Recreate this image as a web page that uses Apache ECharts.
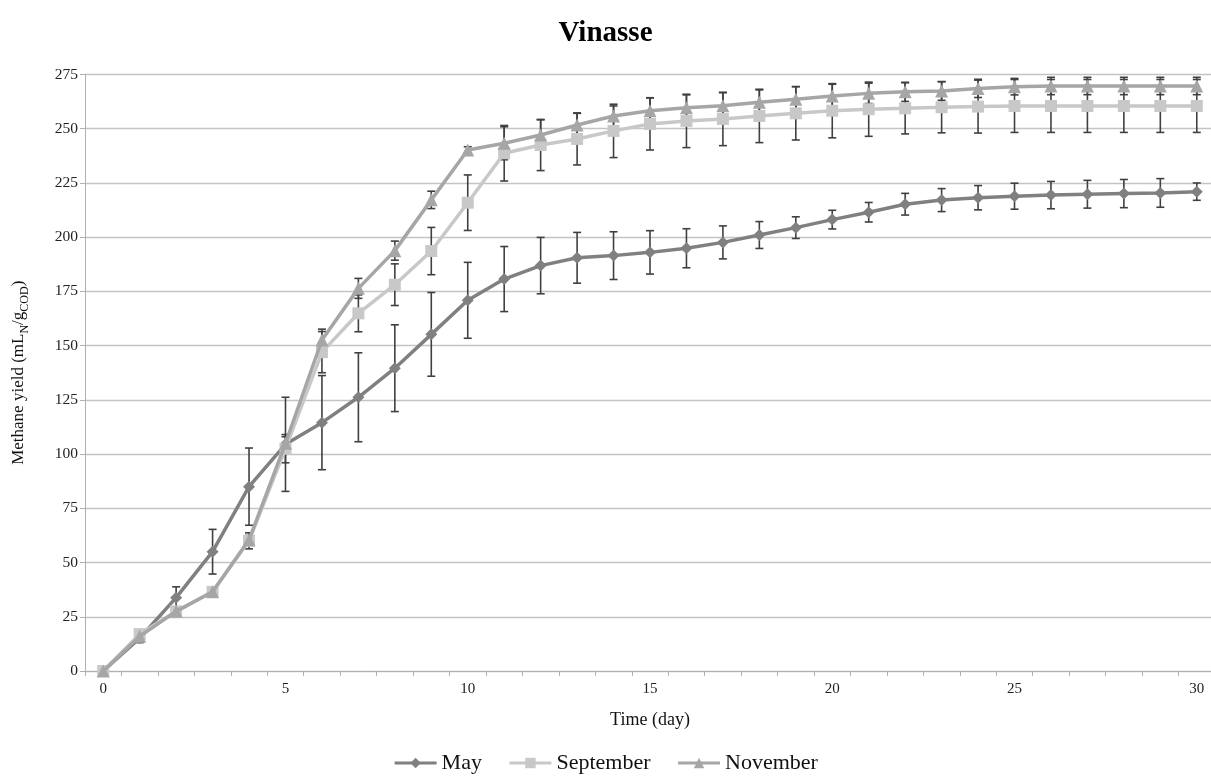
<!DOCTYPE html>
<html>
<head>
<meta charset="utf-8">
<script src="https://cdn.jsdelivr.net/npm/echarts@6/dist/echarts.min.js"></script>
<style>
html,body{margin:0;padding:0;background:#fff;}
#c{width:1211px;height:776px;}
</style>
</head>
<body>
<div id="c"></div>
<script>
var days = ['0','1','2','3','4','5','6','7','8','9','10','11','12','13','14','15','16','17','18','19','20','21','22','23','24','25','26','27','28','29','30'];
var may = [0,15.1,33.8,55,85,104.5,114.5,126.2,139.6,155.2,170.9,180.7,186.9,190.5,191.5,193,194.9,197.6,201,204.4,208.1,211.5,215.2,217.1,218.2,218.9,219.4,219.8,220.1,220.4,221];
var mayErr = [0,2,5,10.3,17.8,21.7,21.7,20.5,20,19.3,17.5,15,13,11.7,11,10,9,7.6,6.2,5,4.3,4.5,5,5.3,5.6,6,6.3,6.4,6.5,6.6,4];
var september = [0,17,27.5,36.5,60,102.5,147,164.9,178.1,193.6,215.9,238.7,242.5,245.3,249,252.2,253.6,254.5,255.9,257.1,258.3,259,259.4,259.9,260.2,260.5,260.5,260.5,260.5,260.5,260.5];
var septemberErr = [0,1,1.5,2,3.7,6.5,9.5,8.5,9.6,10.9,12.8,12.8,11.8,12,12.3,12,12.3,12.3,12.3,12.3,12.5,12.5,11.8,11.8,12.2,12.2,12.2,12.2,12.2,12.2,12.2];
var november = [0,16,27.5,36.5,60.5,105,152.6,176.4,193.8,217.2,240.2,243.3,247.1,251.7,255.9,258.3,259.7,260.6,262.2,263.6,265.1,266.3,267,267.4,268.6,269.4,269.7,269.7,269.7,269.7,269.7];
var novemberErr = [0,1,1,1.5,2,3,5,4.6,4.4,4,1.5,7.6,7,5.4,4.6,6,5.9,6,5.7,5.8,5.4,4.7,4.4,4.3,4.2,3.8,4,4,4,4,4];
var yTicks = {min: 0, max: 275, interval: 25};

var FONT = '"Liberation Serif", "Times New Roman", serif';

function errData(vals, errs) {
  return vals.map(function (v, i) { return [i, v - errs[i], v + errs[i]]; });
}
function errSeries(name, vals, errs) {
  return {
    type: 'custom',
    name: name + ' err',
    z: 1,
    silent: true,
    data: errData(vals, errs),
    encode: {x: 0, y: [1, 2]},
    renderItem: function (params, api) {
      var i = api.value(0);
      var lo = api.coord([i, api.value(1)]);
      var hi = api.coord([i, api.value(2)]);
      if (Math.abs(hi[1] - lo[1]) < 0.5) return null;
      var w = 4;
      var st = {stroke: '#404040', lineWidth: 1.6};
      return {
        type: 'group',
        children: [
          {type: 'line', shape: {x1: lo[0], y1: lo[1], x2: hi[0], y2: hi[1]}, style: st},
          {type: 'line', shape: {x1: lo[0] - w, y1: lo[1], x2: lo[0] + w, y2: lo[1]}, style: st},
          {type: 'line', shape: {x1: hi[0] - w, y1: hi[1], x2: hi[0] + w, y2: hi[1]}, style: st}
        ]
      };
    }
  };
}

var chart = echarts.init(document.getElementById('c'), null, {renderer: 'canvas'});
chart.setOption({
  animation: false,
  backgroundColor: '#fff',
  textStyle: {fontFamily: FONT},
  title: {
    text: 'Vinasse',
    left: 'center',
    top: 14,
    textStyle: {fontFamily: FONT, fontSize: 29, fontWeight: 'bold', color: '#000'}
  },
  legend: {
    bottom: -3,
    left: 'center',
    itemWidth: 42,
    itemHeight: 13,
    itemGap: 26,
    data: ['May', 'September', 'November'],
    lineStyle: {width: 3},
    textStyle: {fontFamily: FONT, fontSize: 22, color: '#111'}
  },
  grid: {left: 85, top: 74.5, bottom: 105, width: 1130, containLabel: false, outerBoundsMode: 'none'},
  xAxis: {
    type: 'category',
    data: days,
    boundaryGap: true,
    name: 'Time (day)',
    nameLocation: 'middle',
    nameGap: 40,
    nameTextStyle: {fontFamily: FONT, fontSize: 18, color: '#111'},
    axisLine: {lineStyle: {color: '#b0b0b0', width: 1}},
    axisTick: {show: true, interval: 0, length: 5, lineStyle: {color: '#b0b0b0'}},
    axisLabel: {interval: 4, fontFamily: FONT, fontSize: 15, color: '#222', margin: 11},
    splitLine: {show: false}
  },
  yAxis: {
    type: 'value',
    min: yTicks.min,
    max: yTicks.max,
    interval: yTicks.interval,
    name: '{a|Methane yield (mL}{s|N}{a|/g}{s|COD}{a|)}',
    nameLocation: 'middle',
    nameGap: 58,
    nameTextStyle: {
      rich: {
        a: {fontFamily: FONT, fontSize: 17, color: '#111', lineHeight: 24, verticalAlign: 'bottom'},
        s: {fontFamily: FONT, fontSize: 12, color: '#111', lineHeight: 24, verticalAlign: 'bottom', padding: [0, 0, -4, 0]}
      }
    },
    axisLine: {show: true, lineStyle: {color: '#b0b0b0', width: 1}},
    axisTick: {show: true, length: 5, lineStyle: {color: '#b0b0b0'}},
    axisLabel: {fontFamily: FONT, fontSize: 15.5, color: '#222', margin: 7},
    splitLine: {show: true, lineStyle: {color: '#c4c4c4', width: 1.3}}
  },
  series: [
    errSeries('May', may, mayErr),
    errSeries('September', september, septemberErr),
    errSeries('November', november, novemberErr),
    {
      name: 'May', type: 'line', data: may, z: 3,
      symbol: 'diamond', symbolSize: 12,
      lineStyle: {color: '#808080', width: 3.5},
      itemStyle: {color: '#808080'}
    },
    {
      name: 'September', type: 'line', data: september, z: 3,
      symbol: 'rect', symbolSize: 12,
      lineStyle: {color: '#c8c8c8', width: 3.5},
      itemStyle: {color: '#c8c8c8'}
    },
    {
      name: 'November', type: 'line', data: november, z: 4,
      symbol: 'triangle', symbolSize: 13,
      lineStyle: {color: '#a6a6a6', width: 3.5},
      itemStyle: {color: '#a6a6a6'}
    }
  ]
});
</script>
</body>
</html>
